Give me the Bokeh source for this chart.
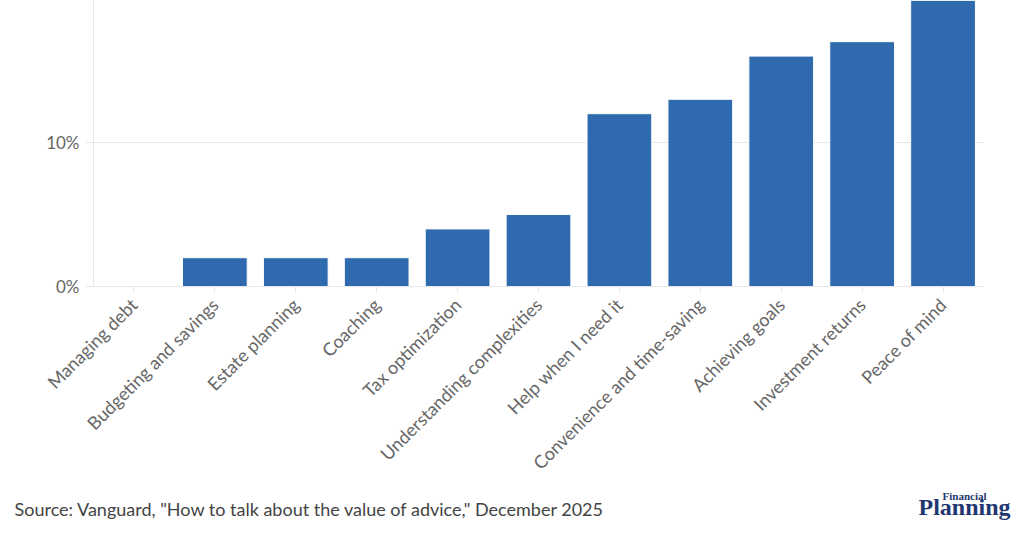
import math
from bokeh.plotting import figure
from bokeh.models import Range1d, FactorRange, FixedTicker, CustomJSTickFormatter
from bokeh.layouts import column, row
from bokeh.core.properties import value
from bokeh.embed import file_html
from bokeh.resources import INLINE

categories = ["Managing debt", "Budgeting and savings", "Estate planning", "Coaching",
              "Tax optimization", "Understanding complexities", "Help when I need it",
              "Convenience and time-saving", "Achieving goals", "Investment returns",
              "Peace of mind"]
shares = [0, 2, 2, 2, 4, 5, 12, 13, 16, 17, 21]
y_ticks = [0, 10, 20]
source_text = 'Source: Vanguard, "How to talk about the value of advice," December 2025'

FONT = "Lato"
GRID = "#e6e6e6"
LABEL = "#666666"

p = figure(x_range=FactorRange(*categories, range_padding=0),
           y_range=Range1d(0, 19.86),
           width=1016, height=486, output_backend="svg", toolbar_location=None,
           min_border_left=93, min_border_right=33, min_border_top=0, min_border_bottom=200)
p.vbar(x=categories, top=shares, width=0.8, fill_color="#2e6aad",
       line_color="white", line_width=1)

p.outline_line_color = None
p.xgrid.grid_line_color = None
p.ygrid.grid_line_color = GRID
p.ygrid.ticker = FixedTicker(ticks=y_ticks)

p.yaxis.ticker = FixedTicker(ticks=y_ticks)
p.yaxis.formatter = CustomJSTickFormatter(code="return tick + '%'")
p.yaxis.axis_line_color = GRID
p.yaxis.major_tick_line_color = GRID
p.yaxis.major_tick_out = 8
p.yaxis.major_tick_in = 0
p.yaxis.minor_tick_line_color = None
p.yaxis.major_label_standoff = 6
p.yaxis.major_label_text_font = FONT
p.yaxis.major_label_text_font_size = "17px"
p.yaxis.major_label_text_color = LABEL

p.xaxis.axis_line_color = GRID
p.xaxis.major_tick_line_color = GRID
p.xaxis.major_tick_out = 6
p.xaxis.major_tick_in = 0
p.xaxis.minor_tick_line_color = None
p.xaxis.major_label_orientation = math.pi / 4
p.xaxis.major_label_standoff = 9
p.xaxis.major_label_text_font = FONT
p.xaxis.major_label_text_font_size = "18px"
p.xaxis.major_label_text_color = LABEL

footer = figure(width=1016, height=44, x_range=Range1d(0, 1016), y_range=Range1d(0, 44),
                output_backend="svg", toolbar_location=None,
                min_border=0, outline_line_color=None)
footer.axis.visible = False
footer.grid.visible = False
footer.text(x=[14], y=[22], text=[source_text], text_font=value(FONT),
            text_font_size="18px", text_color="#444444", text_baseline="middle")
footer.text(x=[964], y=[24], text=["Planning"], text_font=value("Liberation Serif"),
            text_font_style="bold", text_font_size="24px", text_color="#1f3770",
            text_align="center", text_baseline="middle")
footer.text(x=[964], y=[35], text=["Financial"], text_font=value("Liberation Serif"),
            text_font_style="bold", text_font_size="11px", text_color="#1f3770",
            text_align="center", text_baseline="middle")

layout = column(p, row(footer), spacing=0)
open("out.html", "w").write(file_html(layout, INLINE))
